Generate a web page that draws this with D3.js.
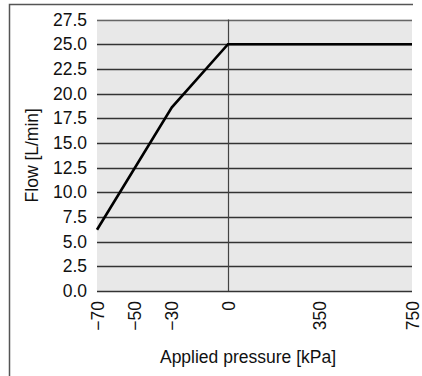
<!DOCTYPE html>
<html><head><meta charset="utf-8">
<script src="https://cdn.jsdelivr.net/npm/d3@7"></script>
<style>html,body{margin:0;padding:0;background:#fff;}svg{display:block;}</style>
</head><body>
<script>
const pressure = [-70, -30, 0, 750];
const flow = [6.2, 18.6, 25.0, 25.0];
const xTicks = [-70, -50, -30, 0, 350, 750];
const yTicks = [0, 2.5, 5, 7.5, 10, 12.5, 15, 17.5, 20, 22.5, 25, 27.5];
const xTitle = "Applied pressure [kPa]";
const yTitle = "Flow [L/min]";

const W = 422, H = 376;
const svg = d3.select("body").append("svg").attr("width", W).attr("height", H);
const font = "'Liberation Sans', Arial, Helvetica, sans-serif";
const fs = 17.5;

const x = d3.scaleLinear().domain([-70, 0, 350, 750]).range([97, 228, 319, 412]);
const y = d3.scaleLinear().domain([0, 27.5]).range([291, 19.5]);

// outer frame
svg.append("path").attr("d", `M9.5,${H} V4.5 H413`).attr("fill", "none").attr("stroke", "#555").attr("stroke-width", 1.5);

// plot background
svg.append("rect").attr("x", x(-70)).attr("y", y(27.5)).attr("width", x(750) - x(-70)).attr("height", y(0) - y(27.5)).attr("fill", "#e8e8e8");

// grid lines
svg.append("g").selectAll("line").data(yTicks).join("line")
  .attr("x1", x(-70)).attr("x2", x(750))
  .attr("y1", d => Math.round(y(d)) + 0.5).attr("y2", d => Math.round(y(d)) + 0.5)
  .attr("stroke", d => d === 27.5 ? "#666" : "#333").attr("stroke-width", 1.3);

// zero line
svg.append("line").attr("x1", x(0) + 0.5).attr("x2", x(0) + 0.5).attr("y1", y(27.5)).attr("y2", y(0))
  .attr("stroke", "#444").attr("stroke-width", 1.2);

// y axis labels
const yAxis = d3.axisLeft(y).tickValues(yTicks).tickFormat(d3.format(".1f")).tickSize(0).tickPadding(10);
const gy = svg.append("g").attr("transform", `translate(${x(-70)},0)`).call(yAxis);
gy.select(".domain").remove();
gy.selectAll("text").attr("font-family", font).attr("font-size", fs).attr("fill", "#111");

// x axis labels
const xAxis = d3.axisBottom(x).tickValues(xTicks).tickFormat(d => d < 0 ? "\u2212" + Math.abs(d) : String(d)).tickSize(0);
const gx = svg.append("g").attr("transform", `translate(0,${y(0)})`).call(xAxis);
gx.select(".domain").remove();
gx.selectAll("text").attr("font-family", font).attr("font-size", fs).attr("fill", "#111")
  .attr("transform", "rotate(-90)").attr("text-anchor", "end").attr("x", -10).attr("y", 0).attr("dy", "0.35em");

// line
const line = d3.line().x((d, i) => x(pressure[i])).y(d => y(d));
svg.append("path").datum(flow).attr("d", line).attr("fill", "none").attr("stroke", "#000").attr("stroke-width", 2.6).attr("stroke-linejoin", "miter");

// titles
svg.append("text").attr("x", 248).attr("y", 363).attr("text-anchor", "middle").attr("font-family", font).attr("font-size", fs).attr("fill", "#111").text(xTitle);
svg.append("text").attr("transform", `translate(38,${(y(0) + y(27.5)) / 2}) rotate(-90)`).attr("text-anchor", "middle").attr("font-family", font).attr("font-size", fs).attr("fill", "#111").text(yTitle);
</script>
</body></html>
